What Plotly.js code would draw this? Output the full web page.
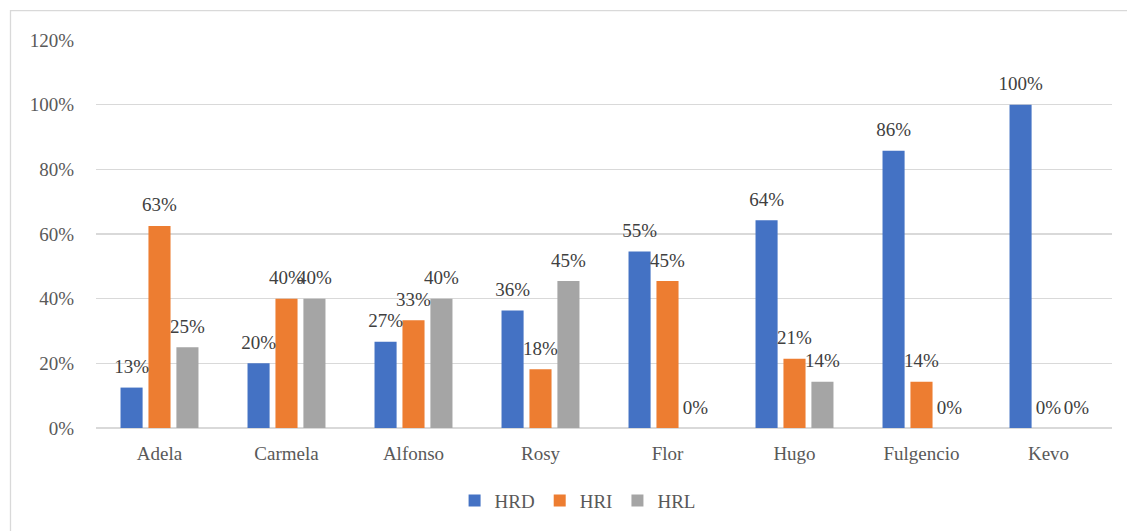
<!DOCTYPE html>
<html>
<head>
<meta charset="utf-8">
<script src="https://cdn.plot.ly/plotly-3.0.1.min.js"></script>
<style>html,body{margin:0;padding:0;background:#fff;}#chart{width:1127px;height:531px;}</style>
</head>
<body>
<div id="chart"></div>
<script>
const categories = ["Adela","Carmela","Alfonso","Rosy","Flor","Hugo","Fulgencio","Kevo"];
const hrd = [12.5, 20, 26.67, 36.36, 54.55, 64.29, 85.71, 100];
const hri = [62.5, 40, 33.33, 18.18, 45.45, 21.43, 14.29, 0];
const hrl = [25, 40, 40, 45.45, 0, 14.29, 0, 0];
const seriesNames = ["HRD","HRI","HRL"];
const colors = ["#4472C4","#ED7D31","#A5A5A5"];
const yTicks = [0,20,40,60,80,100,120];

const font = "'Liberation Serif', 'Times New Roman', serif";
const series = [hrd, hri, hrl];
const barTraces = series.map((vals, i) => ({
  type: "bar",
  name: seriesNames[i],
  x: categories,
  y: vals,
  offsetgroup: String(i),
  marker: {color: colors[i]},
  hoverinfo: "none"
}));
const labelTraces = series.map((vals, i) => ({
  type: "scatter",
  mode: "markers+text",
  showlegend: false,
  x: categories,
  y: vals,
  offsetgroup: String(i),
  text: vals.map(v => Math.round(v) + "%"),
  textposition: "top center",
  marker: {size: 14, opacity: 0, color: colors[i]},
  cliponaxis: false,
  textfont: {family: font, size: 19, color: "#404040"},
  hoverinfo: "none"
}));

const layout = {
  width: 1127, height: 531,
  margin: {l: 96, r: 15, t: 40, b: 101},
  paper_bgcolor: "#fff", plot_bgcolor: "#fff",
  font: {family: font, size: 19, color: "#595959"},
  barmode: "group",
  bargap: 0.34,
  bargroupgap: 0.21,
  scattermode: "group",
  scattergap: 0.34,
  showlegend: true,
  legend: {orientation: "h", x: 0.474, xanchor: "center", y: -0.187, yanchor: "middle",
           font: {family: font, size: 19, color: "#595959"}, itemwidth: 30, traceorder: "normal"},
  xaxis: {type: "category", showgrid: false, zeroline: false, showline: false,
          ticks: "", ticklabelstandoff: 12, tickfont: {family: font, size: 19, color: "#595959"}},
  yaxis: {range: [0, 120], tickvals: yTicks, ticktext: yTicks.map(v => v + "%"),
          showgrid: true, gridcolor: "#D9D9D9", gridwidth: 1.3, zeroline: true, zerolinecolor: "#D9D9D9", zerolinewidth: 1.3,
          showline: false, ticks: "", ticklabelstandoff: 21, tickfont: {family: font, size: 19, color: "#595959"}},
  shapes: [{type: "rect", xref: "paper", yref: "paper",
            x0: (10.5 - 96) / 1016, x1: (1140 - 96) / 1016,
            y0: (430 - 545) / 390, y1: (430 - 10.5) / 390,
            line: {color: "#D9D9D9", width: 1.3}, fillcolor: "rgba(0,0,0,0)", layer: "below"}]
};

Plotly.newPlot("chart", barTraces.concat(labelTraces), layout, {displayModeBar: false, staticPlot: true});
</script>
</body>
</html>
